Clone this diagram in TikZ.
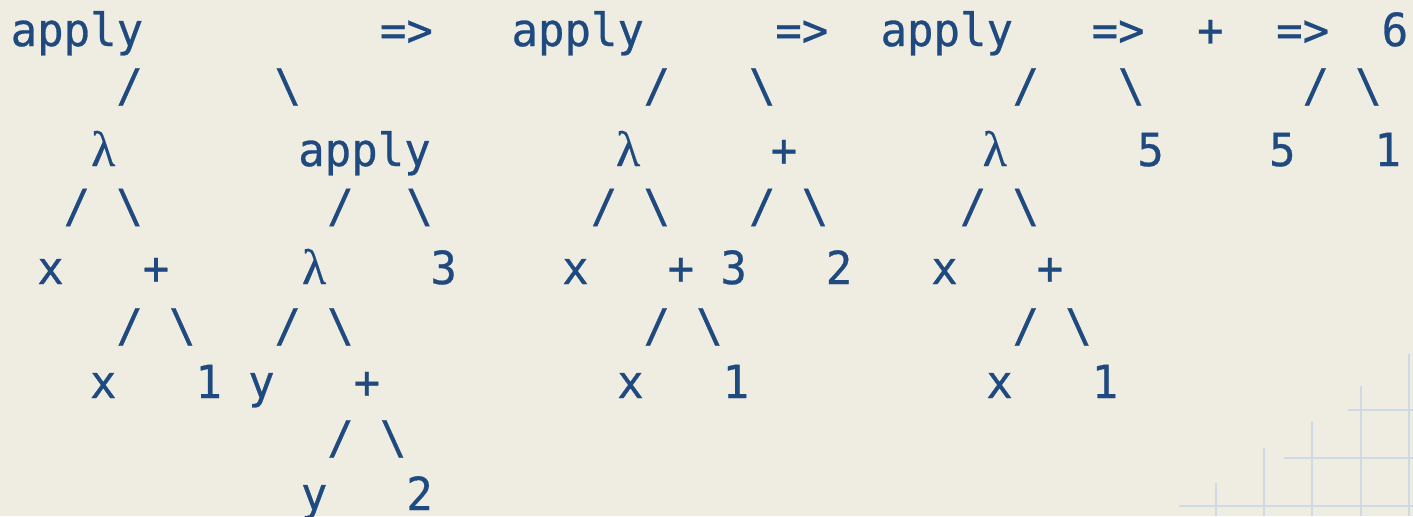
\documentclass[tikz,border=0pt]{standalone}
\usepackage{fontspec}
\newfontfamily\codefont[FakeStretch=0.965,FakeBold=0.6]{DejaVu Sans Mono}
\newfontfamily\lamfont[FakeBold=0.4]{Liberation Serif}

\definecolor{paper}{HTML}{EFECE2}
\definecolor{ink}{HTML}{1F4A80}
\definecolor{gridline}{HTML}{CFDAE7}

% horizontal centre of a span, measured in character cells
\newcommand\cx[1]{11+26.36*(#1)}

\tikzset{
  tok/.style={font=\codefont\fontsize{22.8pt}{27pt}\selectfont, text=ink, inner sep=0pt, anchor=base},
  bar/.style={font=\codefont\fontsize{22.8pt}{27pt}\selectfont, text=ink, inner sep=0pt, anchor=center},
  lam/.style={font=\lamfont\fontsize{25pt}{30pt}\selectfont, text=ink, inner sep=0pt, anchor=base},
  gridrule/.style={draw=gridline, line width=1.4pt},
}

\begin{document}
\begin{tikzpicture}[x=0.5pt, y=-0.5pt]
  \fill[paper] (0,0) rectangle (1413,516);
  \useasboundingbox (0,0) rectangle (1413,516);
  \clip (0,0) rectangle (1413,516);

  % light grid in the lower right corner
  \draw[gridrule] (1216,483) -- (1216,516);
  \draw[gridrule] (1264,448) -- (1264,516);
  \draw[gridrule] (1312,421) -- (1312,516);
  \draw[gridrule] (1361,386) -- (1361,516);
  \draw[gridrule] (1409,354) -- (1409,516);
  \draw[gridrule] (1179,506) -- (1413,506);
  \draw[gridrule] (1284,458) -- (1413,458);
  \draw[gridrule] (1348,410) -- (1413,410);

  % line 1: the roots and the reduction arrows
  \node[tok] (aA)  at ({\cx{2.5}},46)  {apply};
  \node[tok] (ar1) at ({\cx{15}},46)   {=>};
  \node[tok] (aB)  at ({\cx{21.5}},46) {apply};
  \node[tok] (ar2) at ({\cx{30}},46)   {=>};
  \node[tok] (aC)  at ({\cx{35.5}},46) {apply};
  \node[tok] (ar3) at ({\cx{42}},46)   {=>};
  \node[tok] (pD)  at ({\cx{45.5}},46) {+};
  \node[tok] (ar4) at ({\cx{49}},46)   {=>};
  \node[tok] (six) at ({\cx{52.5}},46) {6};

  % line 2
  \node[bar] (s2a) at ({\cx{4.5}},87)  {/};
  \node[bar] (s2b) at ({\cx{10.5}},87) {\textbackslash};
  \node[bar] (s2c) at ({\cx{24.5}},87) {/};
  \node[bar] (s2d) at ({\cx{28.5}},87) {\textbackslash};
  \node[bar] (s2e) at ({\cx{38.5}},87) {/};
  \node[bar] (s2f) at ({\cx{42.5}},87) {\textbackslash};
  \node[bar] (s2g) at ({\cx{49.5}},87) {/};
  \node[bar] (s2h) at ({\cx{51.5}},87) {\textbackslash};

  % line 3
  \node[lam] (lA)  at ({\cx{3.5}},166)      {λ};
  \node[tok] (aA2) at ({\cx{13.5}-2.4},166) {apply};
  \node[lam] (lB)  at ({\cx{23.5}-2.4},166) {λ};
  \node[tok] (pB)  at ({\cx{29.5}-4.7},166) {+};
  \node[lam] (lC)  at ({\cx{37.5}-4.7},166) {λ};
  \node[tok] (fC)  at ({\cx{43.5}-7.1},166) {5};
  \node[tok] (fD)  at ({\cx{48.5}-7.1},166) {5};
  \node[tok] (oD)  at ({\cx{52.5}-7.1},166) {1};

  % line 4
  \node[bar] (s4a) at ({\cx{2.5}},207.5)  {/};
  \node[bar] (s4b) at ({\cx{4.5}},207.5)  {\textbackslash};
  \node[bar] (s4c) at ({\cx{12.5}},207.5) {/};
  \node[bar] (s4d) at ({\cx{15.5}},207.5) {\textbackslash};
  \node[bar] (s4e) at ({\cx{22.5}},207.5) {/};
  \node[bar] (s4f) at ({\cx{24.5}},207.5) {\textbackslash};
  \node[bar] (s4g) at ({\cx{28.5}},207.5) {/};
  \node[bar] (s4h) at ({\cx{30.5}},207.5) {\textbackslash};
  \node[bar] (s4i) at ({\cx{36.5}},207.5) {/};
  \node[bar] (s4j) at ({\cx{38.5}},207.5) {\textbackslash};

  % line 5
  \node[tok] (xA)  at ({\cx{1.5}},284)      {x};
  \node[tok] (pA)  at ({\cx{5.5}},284)      {+};
  \node[lam] (lA2) at ({\cx{11.5}},284)     {λ};
  \node[tok] (tA)  at ({\cx{16.5}-2.3},284) {3};
  \node[tok] (xB)  at ({\cx{21.5}-2.3},284) {x};
  \node[tok] (pB2) at ({\cx{25.5}-2.3},284) {+};
  \node[tok] (tB)  at ({\cx{27.5}-2.3},284) {3};
  \node[tok] (wB)  at ({\cx{31.5}-2.3},284) {2};
  \node[tok] (xC)  at ({\cx{35.5}-2.3},284) {x};
  \node[tok] (pC)  at ({\cx{39.5}-2.3},284) {+};

  % line 6
  \node[bar] (s6a) at ({\cx{4.5}},327)  {/};
  \node[bar] (s6b) at ({\cx{6.5}},327)  {\textbackslash};
  \node[bar] (s6c) at ({\cx{10.5}},327) {/};
  \node[bar] (s6d) at ({\cx{12.5}},327) {\textbackslash};
  \node[bar] (s6e) at ({\cx{24.5}},327) {/};
  \node[bar] (s6f) at ({\cx{26.5}},327) {\textbackslash};
  \node[bar] (s6g) at ({\cx{38.5}},327) {/};
  \node[bar] (s6h) at ({\cx{40.5}},327) {\textbackslash};

  % line 7
  \node[tok] (xA2) at ({\cx{3.5}},398)  {x};
  \node[tok] (oA)  at ({\cx{7.5}},398)  {1};
  \node[tok] (yA)  at ({\cx{9.5}},398)  {y};
  \node[tok] (pA2) at ({\cx{13.5}},398) {+};
  \node[tok] (xB2) at ({\cx{23.5}},398) {x};
  \node[tok] (oB)  at ({\cx{27.5}},398) {1};
  \node[tok] (xC2) at ({\cx{37.5}},398) {x};
  \node[tok] (oC)  at ({\cx{41.5}},398) {1};

  % line 8
  \node[bar] (s8a) at ({\cx{12.5}},439) {/};
  \node[bar] (s8b) at ({\cx{14.5}},439) {\textbackslash};

  % line 9
  \node[tok] (yA2) at ({\cx{11.5}},510) {y};
  \node[tok] (wA)  at ({\cx{15.5}},510) {2};
\end{tikzpicture}
\end{document}
